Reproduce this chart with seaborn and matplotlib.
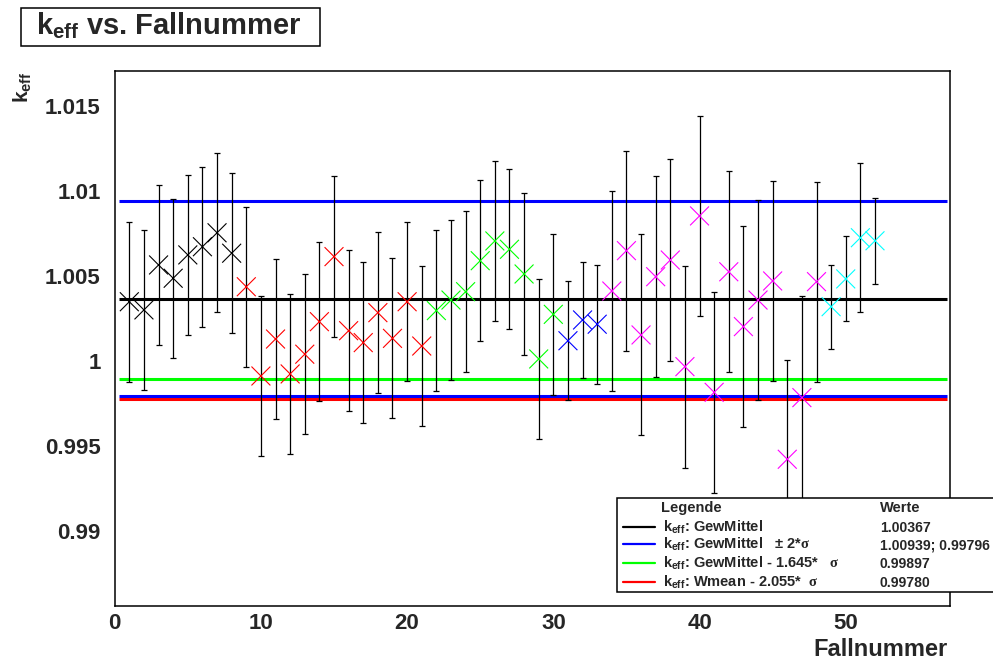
import numpy as np
import pandas as pd
import matplotlib
matplotlib.use("Agg")
import matplotlib.pyplot as plt
import seaborn as sns
from matplotlib.ticker import MultipleLocator, FuncFormatter
from matplotlib.patches import Rectangle
from matplotlib.lines import Line2D

# ---------------- data ----------------
case = list(range(1, 53))
keff = [1.00349, 1.00301, 1.00565, 1.00487, 1.00624, 1.00672, 1.00754, 1.00634,
        1.00437, 0.99913, 1.00130, 0.99925, 1.00041, 1.00232, 1.00614, 1.00179,
        1.00109, 1.00285, 1.00134, 1.00349, 1.00089,
        1.00297, 1.00359, 1.00408, 1.00590, 1.00706, 1.00657, 1.00512, 1.00013, 1.00275,
        1.00120, 1.00242, 1.00217,
        1.00412, 1.00649, 1.00154, 1.00496, 1.00594, 0.99968, 1.00853, 0.99817,
        1.00525, 1.00203, 1.00359, 1.00471, 0.99424, 0.99786, 1.00467,
        1.00320, 1.00483, 1.00725, 1.00707]
err = [0.00469, 0.00471, 0.00472, 0.00468, 0.00468, 0.00471, 0.00468, 0.00471,
       0.00471, 0.00468, 0.00469, 0.00471, 0.00471, 0.00468, 0.00472, 0.00471,
       0.00471, 0.00472, 0.00469, 0.00468, 0.00469,
       0.00473, 0.00471, 0.00473, 0.00471, 0.00468, 0.00469, 0.00473, 0.00472, 0.00473,
       0.00350, 0.00343, 0.00350,
       0.00590, 0.00587, 0.00590, 0.00589, 0.00591, 0.00593, 0.00588, 0.00590,
       0.00589, 0.00589, 0.00587, 0.00589, 0.00583, 0.00597, 0.00587,
       0.00247, 0.00250, 0.00437, 0.00251]
group = ["g1"] * 8 + ["g2"] * 13 + ["g3"] * 9 + ["g4"] * 3 + ["g5"] * 15 + ["g6"] * 4
group_colors = {"g1": "#000000", "g2": "#ff0000", "g3": "#00ff00",
                "g4": "#0000ff", "g5": "#ff00ff", "g6": "#00ffff"}

ref_values = [0.99780, 1.00367, 1.00939, 0.99796, 0.99897]
ref_colors = ["#ff0000", "#000000", "#0000ff", "#0000ff", "#00ff00"]

legend_labels = [r"k$_{\mathbf{eff}}$: GewMittel",
                 r"k$_{\mathbf{eff}}$: GewMittel   $\pm$ 2*$\sigma$",
                 r"k$_{\mathbf{eff}}$: GewMittel - 1.645*   $\sigma$",
                 r"k$_{\mathbf{eff}}$: Wmean - 2.055*  $\sigma$"]
legend_values = ["1.00367", "1.00939; 0.99796", "0.99897", "0.99780"]
legend_colors = ["#000000", "#0000ff", "#00ff00", "#ff0000"]

df = pd.DataFrame({"case": case, "keff": keff, "err": err, "group": group})

# ---------------- style ----------------
sns.set_style("white")
plt.rcParams["font.family"] = ["Liberation Sans", "DejaVu Sans"]
plt.rcParams["font.weight"] = "bold"
plt.rcParams["mathtext.fontset"] = "custom"
plt.rcParams["mathtext.rm"] = "Liberation Sans:bold"
plt.rcParams["mathtext.bf"] = "Liberation Sans:bold"
plt.rcParams["mathtext.it"] = "Liberation Serif"

W, H = 993, 664
fig = plt.figure(figsize=(W / 100, H / 100), dpi=100)
fig.patch.set_facecolor("white")
ax = fig.add_axes([114.7 / W, 1 - 605.7 / H, (950 - 114.7) / W, (605.7 - 71) / H])
ax.set_facecolor("white")

def fx(x):
    return x / W

def fy(y):
    return 1 - y / H

# reference lines
for v, c in zip(ref_values, ref_colors):
    ax.hlines(v, 0.3, 56.9, colors=c, linewidth=2.2, zorder=2)

# error bars
ax.errorbar(df["case"], df["keff"], yerr=df["err"], fmt="none", ecolor="black",
            elinewidth=0.9, capsize=2.0, capthick=0.9, zorder=3)

# markers
sns.scatterplot(data=df, x="case", y="keff", hue="group", palette=group_colors,
                marker="x", s=185, linewidth=0.8, legend=False, ax=ax, zorder=4)

ax.set_xlim(0, 57.13)
ax.set_ylim(0.98564, 1.01704)
ax.set_xlabel("")
ax.set_ylabel("")

ax.xaxis.set_major_locator(MultipleLocator(10))
ax.xaxis.set_minor_locator(MultipleLocator(2))
ax.yaxis.set_major_locator(MultipleLocator(0.005))
ax.yaxis.set_minor_locator(MultipleLocator(0.001))
ax.yaxis.set_major_formatter(FuncFormatter(lambda v, p: "%g" % round(v, 4)))
ax.xaxis.set_major_formatter(FuncFormatter(lambda v, p: "%d" % round(v)))

ax.tick_params(axis="both", which="both", direction="in", color="black", width=0.8,
               top=False, right=False)
ax.tick_params(axis="x", which="major", length=12.2, pad=5, labelsize=16)
ax.tick_params(axis="x", which="minor", length=6.1)
ax.tick_params(axis="y", which="major", length=18.7, pad=10, labelsize=16)
ax.tick_params(axis="y", which="minor", length=9.7)
for lab in ax.get_xticklabels() + ax.get_yticklabels():
    lab.set_fontweight("bold")

for s in ax.spines.values():
    s.set_visible(True)
    s.set_color("black")
    s.set_linewidth(1.1)

# axis titles
fig.text(fx(22), fy(71), r"k$_{\mathbf{eff}}$", rotation=90, ha="center", va="top",
         fontsize=15, fontweight="bold")
fig.text(fx(948), fy(649), "Fallnummer", ha="right", va="center", fontsize=17,
         fontweight="bold")

# title box
fig.add_artist(Rectangle((fx(21), fy(46)), (320 - 21) / W, (46 - 8) / H,
                         transform=fig.transFigure, facecolor="white",
                         edgecolor="black", linewidth=1.1, zorder=5))
fig.text(fx(169), fy(26), r"k$_{\mathbf{eff}}$ vs. Fallnummer", ha="center",
         va="center", fontsize=21, fontweight="bold", zorder=6)

# legend box
fig.add_artist(Rectangle((fx(616.5), fy(592)), (1005 - 616.5) / W, (592 - 498) / H,
                         transform=fig.transFigure, facecolor="white",
                         edgecolor="black", linewidth=1.1, zorder=5))
fig.text(fx(691), fy(508), "Legende", ha="center", va="center", fontsize=10.5,
         fontweight="bold", zorder=6)
fig.text(fx(880), fy(508), "Werte", ha="left", va="center", fontsize=10.5,
         fontweight="bold", zorder=6)
row_y = [527, 544, 563, 582]
for yy, lab, val, col in zip(row_y, legend_labels, legend_values, legend_colors):
    fig.add_artist(Line2D([fx(623), fx(655)], [fy(yy), fy(yy)], color=col,
                          linewidth=1.6, transform=fig.transFigure, zorder=6))
    fig.text(fx(663), fy(yy), lab, ha="left", va="center", fontsize=10.5,
             fontweight="bold", zorder=6)
    fig.text(fx(880), fy(yy + 1), val, ha="left", va="center", fontsize=10.1,
             fontweight="bold", zorder=6)

fig.savefig("out.png", dpi=100, facecolor="white")
